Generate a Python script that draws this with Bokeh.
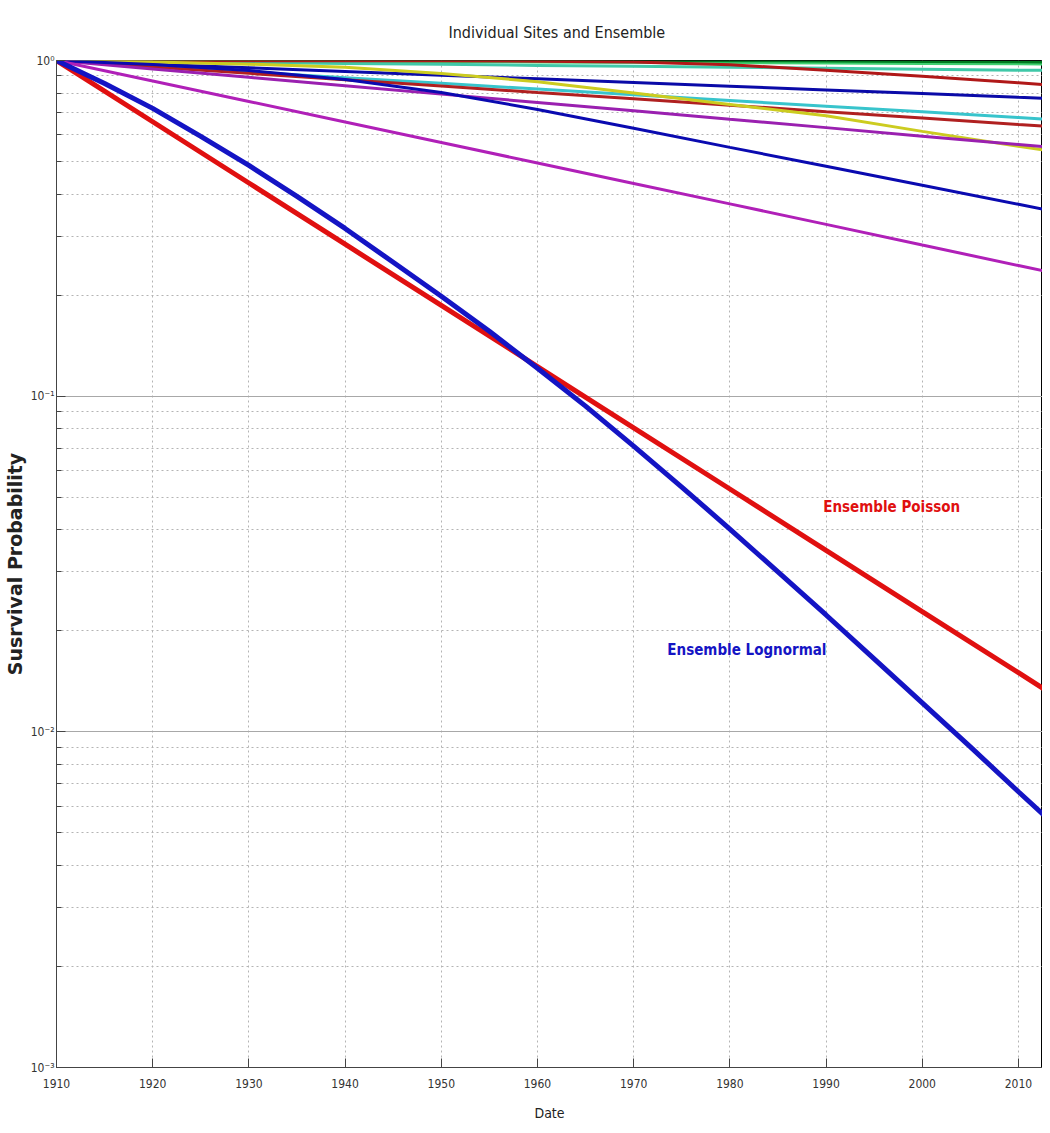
from bokeh.plotting import figure
from bokeh.models import Range1d, FixedTicker, Label
from bokeh.embed import file_html
from bokeh.resources import INLINE

# ---------------- data ----------------
years = [1910, 1920, 1930, 1940, 1950, 1960, 1970, 1980, 1990, 2000, 2010, 2020]
years_5 = [1910, 1915, 1920, 1925, 1930, 1935, 1940, 1945, 1950, 1955, 1960, 1965,
           1970, 1975, 1980, 1985, 1990, 1995, 2000, 2005, 2010, 2015, 2020]

site_black = [1.0, 1.0, 1.0, 1.0, 0.999, 0.999, 0.999, 0.998, 0.998, 0.998, 0.997, 0.997]
site_darkgreen = [1.0, 0.999, 0.997, 0.996, 0.995, 0.994, 0.992, 0.991, 0.990, 0.988, 0.987, 0.986]
site_lightgreen = [1.0, 0.997, 0.995, 0.992, 0.989, 0.987, 0.984, 0.982, 0.979, 0.976, 0.974, 0.971]
site_aqua = [1.0, 0.993, 0.987, 0.980, 0.974, 0.967, 0.961, 0.955, 0.949, 0.942, 0.936, 0.930]
site_darkred1 = [1.0, 1.0, 0.999, 0.999, 0.998, 0.995, 0.990, 0.972, 0.935, 0.897, 0.858, 0.820]
site_blue1 = [1.0, 0.975, 0.951, 0.927, 0.904, 0.882, 0.860, 0.838, 0.817, 0.797, 0.777, 0.758]
site_cyan = [1.0, 0.962, 0.925, 0.889, 0.855, 0.822, 0.791, 0.760, 0.731, 0.703, 0.676, 0.650]
site_darkred2 = [1.0, 0.957, 0.916, 0.877, 0.839, 0.803, 0.769, 0.736, 0.704, 0.674, 0.645, 0.618]
site_yellow = [1.0, 0.990, 0.975, 0.955, 0.915, 0.865, 0.800, 0.740, 0.685, 0.615, 0.555, 0.505]
site_purple = [1.0, 0.944, 0.891, 0.841, 0.794, 0.750, 0.708, 0.668, 0.631, 0.595, 0.562, 0.530]
site_blue2 = [1.0, 0.973, 0.934, 0.878, 0.803, 0.715, 0.628, 0.551, 0.484, 0.425, 0.373, 0.327]
site_magenta = [1.0, 0.869, 0.755, 0.656, 0.570, 0.495, 0.430, 0.374, 0.325, 0.282, 0.245, 0.213]

ensemble_poisson = [1.0, 0.657, 0.4316, 0.2836, 0.1864, 0.1225, 0.0804, 0.0529, 0.0347, 0.0228, 0.0150, 0.00985]
ensemble_lognormal = [1.0, 0.8542, 0.720, 0.594, 0.487, 0.3937, 0.316, 0.2505, 0.1984, 0.1561,
                      0.1211, 0.0934, 0.0710, 0.0536, 0.0402, 0.02994, 0.02229, 0.01650,
                      0.01220, 0.00902, 0.00663, 0.00490, 0.00360]

x_ticks = [1910, 1920, 1930, 1940, 1950, 1960, 1970, 1980, 1990, 2000, 2010]
y_ticks = [0.001, 0.01, 0.1, 1.0]
y_tick_labels = ["10\u207b\u00b3", "10\u207b\u00b2", "10\u207b\u00b9", "10\u2070"]

# ---------------- figure ----------------
NARROW = "DejaVu Sans Condensed"

p = figure(width=1042, height=1125,
           x_range=Range1d(1910, 2012.5), y_range=Range1d(0.001, 1.0),
           y_axis_type="log", output_backend="svg", toolbar_location=None,
           min_border_left=48, min_border_right=0, min_border_top=60, min_border_bottom=58)

p.title.text = "Individual Sites and Ensemble"
p.title.align = "left"
p.title.offset = 392
p.title.text_font = NARROW
p.title.text_font_size = "16px"
p.title.text_font_style = "normal"
p.title.text_color = "#222222"
p.title.standoff = 38

p.background_fill_color = "white"
p.border_fill_color = "white"
p.outline_line_color = "black"
p.outline_line_width = 1

# x axis
p.xaxis.ticker = FixedTicker(ticks=x_ticks, minor_ticks=[])
p.xaxis.axis_label = "Date"
p.xaxis.axis_label_text_font = NARROW
p.xaxis.axis_label_text_font_size = "14px"
p.xaxis.axis_label_text_font_style = "normal"
p.xaxis.axis_label_text_color = "#222222"
p.xaxis.axis_label_standoff = 14
p.xaxis.major_label_text_font = NARROW
p.xaxis.major_label_text_font_size = "12px"
p.xaxis.major_label_text_color = "#333333"
p.xaxis.major_label_standoff = 11
p.xaxis.major_tick_in = 9
p.xaxis.major_tick_out = 0
p.xaxis.axis_line_color = "#444444"
p.xaxis.major_tick_line_color = "#444444"

# y axis
minor = [k * 10.0 ** e for e in (-3, -2, -1) for k in range(2, 10)]
p.yaxis.ticker = FixedTicker(ticks=y_ticks, minor_ticks=minor)
p.yaxis.major_label_overrides = {t: l for t, l in zip(y_ticks, y_tick_labels)}
p.yaxis.axis_label = "Susrvival Probability"
p.yaxis.axis_label_text_font = "DejaVu Sans"
p.yaxis.axis_label_text_font_size = "19px"
p.yaxis.axis_label_text_font_style = "bold"
p.yaxis.axis_label_text_color = "#222222"
p.yaxis.axis_label_standoff = 2
p.yaxis.major_label_text_font = NARROW
p.yaxis.major_label_text_font_size = "12px"
p.yaxis.major_label_text_color = "#333333"
p.yaxis.major_label_standoff = 2
p.yaxis.major_tick_in = 9
p.yaxis.major_tick_out = 0
p.yaxis.minor_tick_in = 5
p.yaxis.minor_tick_out = 0
p.yaxis.axis_line_color = "#444444"
p.yaxis.major_tick_line_color = "#444444"
p.yaxis.minor_tick_line_color = "#444444"

# grids
p.xgrid.grid_line_color = "#b4b4b4"
p.xgrid.grid_line_dash = "2 3"
p.ygrid.grid_line_color = "#a8a8a8"
p.ygrid.grid_line_dash = "solid"
p.ygrid.minor_grid_line_color = "#b4b4b4"
p.ygrid.minor_grid_line_dash = "2 3"

# individual sites
sites = [
    (site_black, "#101010", 2.5),
    (site_darkgreen, "#007a20", 3),
    (site_lightgreen, "#40d070", 2),
    (site_aqua, "#40c8a8", 3),
    (site_darkred1, "#b01818", 3),
    (site_blue1, "#0a0aa8", 3),
    (site_cyan, "#38c4cc", 3),
    (site_darkred2, "#b02020", 3),
    (site_yellow, "#cccc20", 3),
    (site_purple, "#9a20b0", 3),
    (site_blue2, "#0a0ab0", 3),
    (site_magenta, "#b020b8", 3),
]
for vals, col, lw in sites:
    p.line(years, vals, line_color=col, line_width=lw)

# ensembles
p.line(years, ensemble_poisson, line_color="#e01010", line_width=5)
p.line(years_5, ensemble_lognormal, line_color="#1414c4", line_width=5)

p.add_layout(Label(x=1989.7, y=0.0468, text="Ensemble Poisson", text_color="#e01010",
                   text_font=NARROW, text_font_size="15px", text_font_style="bold",
                   text_baseline="middle", text_align="left"))
p.add_layout(Label(x=1973.5, y=0.01754, text="Ensemble Lognormal", text_color="#1414c4",
                   text_font=NARROW, text_font_size="15px", text_font_style="bold",
                   text_baseline="middle", text_align="left"))

open("out.html", "w").write(file_html(p, INLINE))
